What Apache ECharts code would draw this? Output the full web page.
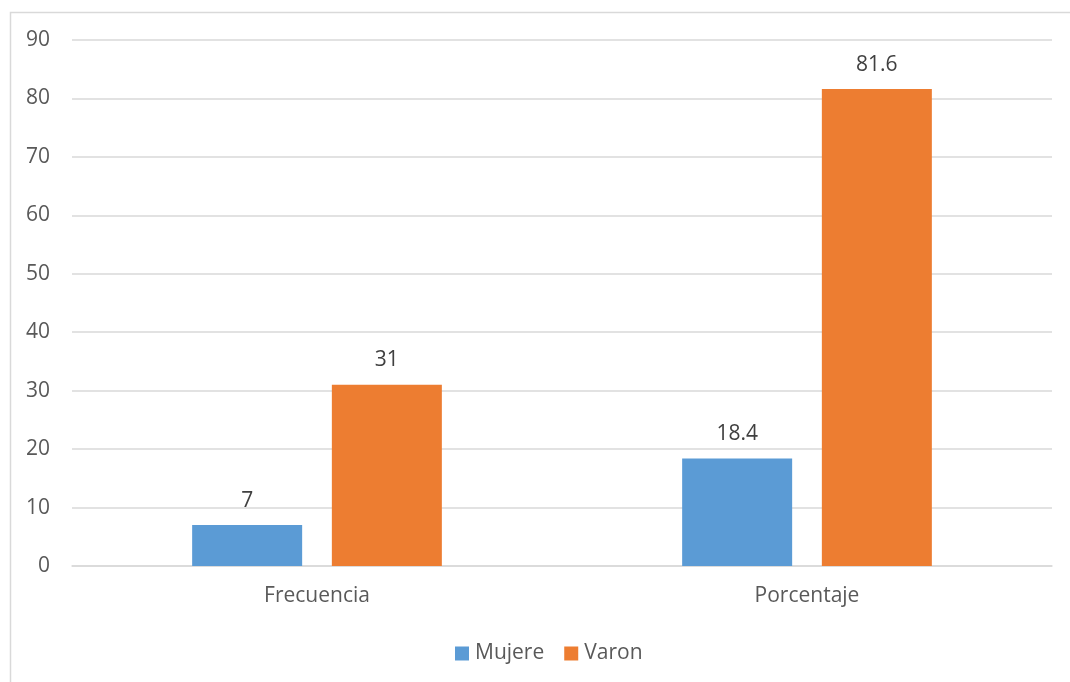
<!DOCTYPE html>
<html>
<head>
<meta charset="utf-8">
<script src="https://cdn.jsdelivr.net/npm/echarts@6/dist/echarts.min.js"></script>
<style>
  html, body { margin: 0; padding: 0; background: #fff; }
  #chart { width: 1070px; height: 682px; }
</style>
</head>
<body>
<div id="chart"></div>
<script>
// Categories and series values
const categories = ['Frecuencia', 'Porcentaje'];
const mujere = [7, 18.4];
const varon = [31, 81.6];
const seriesNames = ['Mujere', 'Varon'];

const FONT = "'Open Sans', 'Noto Sans', sans-serif";
const chart = echarts.init(document.getElementById('chart'), null, { renderer: 'canvas' });

const labelStyle = {
  show: true,
  position: 'top',
  distance: 14,
  color: '#404040',
  fontSize: 21,
  fontFamily: FONT
};

chart.setOption({
  backgroundColor: '#ffffff',
  animation: false,
  graphic: [{
    type: 'rect',
    left: 8,
    top: 10,
    shape: { width: 1080, height: 690 },
    style: { fill: 'none', stroke: '#d9d9d9', lineWidth: 1.5 },
    silent: true,
    z: -1
  }],
  grid: { left: 72, right: 18, top: 40, bottom: 116 },
  legend: {
    data: seriesNames,
    bottom: 13,
    left: 450,
    itemWidth: 14,
    itemHeight: 14,
    itemGap: 20,
    icon: 'rect',
    textStyle: { color: '#595959', fontSize: 21, fontFamily: FONT, padding: [0, 0, 0, 1] }
  },
  xAxis: {
    type: 'category',
    data: categories,
    axisLine: { show: true, lineStyle: { color: '#d9d9d9', width: 1.5 } },
    axisTick: { show: false },
    axisLabel: { color: '#595959', fontSize: 21, fontFamily: FONT, margin: 20 }
  },
  yAxis: {
    type: 'value',
    min: 0,
    max: 90,
    interval: 10,
    axisLine: { show: false },
    axisTick: { show: false },
    axisLabel: { color: '#595959', fontSize: 21, fontFamily: FONT, margin: 22 },
    splitLine: { lineStyle: { color: '#d9d9d9', width: 1.5 } }
  },
  series: [
    {
      name: seriesNames[0],
      type: 'bar',
      data: mujere,
      barWidth: 110,
      barGap: '27%',
      itemStyle: { color: '#5b9bd5' },
      label: labelStyle
    },
    {
      name: seriesNames[1],
      type: 'bar',
      data: varon,
      barWidth: 110,
      itemStyle: { color: '#ed7d31' },
      label: labelStyle
    }
  ]
});
</script>
</body>
</html>
